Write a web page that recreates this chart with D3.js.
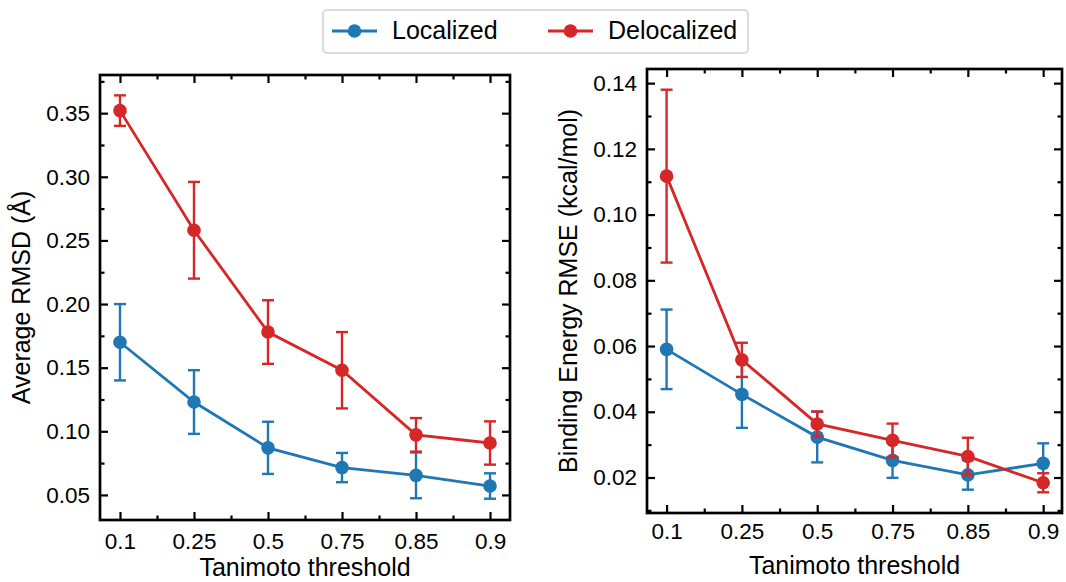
<!DOCTYPE html>
<html>
<head>
<meta charset="utf-8">
<script src="https://cdn.jsdelivr.net/npm/d3@7"></script>
<style>
  body { margin: 0; background: #fff; }
  svg { font-family: "Liberation Sans", Arial, sans-serif; }
</style>
</head>
<body>
<script>
// data
var thresholds = ["0.1", "0.25", "0.5", "0.75", "0.85", "0.9"];
var seriesNames = ["Localized", "Delocalized"];
var seriesColors = ["#1f77b4", "#d62728"];

// left panel: Average RMSD (Å)
var rmsdLocal = [0.170, 0.123, 0.087, 0.0715, 0.0654, 0.057];
var rmsdLocalErr = [0.030, 0.025, 0.0205, 0.0115, 0.018, 0.010];
var rmsdDeloc = [0.352, 0.258, 0.178, 0.148, 0.0972, 0.0908];
var rmsdDelocErr = [0.012, 0.038, 0.025, 0.030, 0.0132, 0.017];

// right panel: Binding Energy RMSE (kcal/mol)
var rmseLocal = [0.059, 0.0453, 0.0323, 0.0252, 0.0208, 0.0243];
var rmseLocalErr = [0.0121, 0.0102, 0.0077, 0.0053, 0.0045, 0.0061];
var rmseDeloc = [0.1117, 0.0558, 0.0363, 0.0313, 0.0264, 0.0184];
var rmseDelocErr = [0.0263, 0.0052, 0.0038, 0.0051, 0.0057, 0.0029];

var width = 1066, height = 582;
var tickFont = "22.5px", labelFont = "25px";

var svg = d3.select("body").append("svg")
  .attr("width", width)
  .attr("height", height);

function drawPanel(p) {
  var x = d3.scaleLinear().domain(p.xDomain).range([p.left, p.right]);
  var y = d3.scaleLinear().domain(p.yDomain).range([p.bottom, p.top]);
  var g = svg.append("g");

  var xMajor = d3.range(thresholds.length);
  var xMinor = d3.range(thresholds.length - 1).map(function(i){ return i + 0.5; });
  var yMinor = d3.range(p.yMinorStart, p.yDomain[1], p.yMinorStep);

  function styleAxis(sel) {
    sel.select(".domain").remove();
    sel.selectAll(".tick line").attr("stroke", "#000").attr("stroke-width", 2.2);
    sel.selectAll(".tick text").attr("fill", "#000").style("font-size", tickFont);
  }

  // minor ticks
  [[d3.axisBottom(x), p.bottom, "x"], [d3.axisTop(x), p.top, "x"],
   [d3.axisLeft(y), p.left, "y"], [d3.axisRight(y), p.right, "y"]].forEach(function(a){
    var ax = a[0].tickValues(a[2] == "x" ? xMinor : yMinor).tickSize(-4.5).tickFormat("");
    var t = a[2] == "x" ? "translate(0," + a[1] + ")" : "translate(" + a[1] + ",0)";
    g.append("g").attr("transform", t).call(ax).call(styleAxis);
  });

  // major ticks
  g.append("g").attr("transform", "translate(0," + p.bottom + ")")
    .call(d3.axisBottom(x).tickValues(xMajor).tickSize(-8).tickPadding(p.xPad)
      .tickFormat(function(d){ return thresholds[d]; }))
    .call(styleAxis);
  g.append("g").attr("transform", "translate(0," + p.top + ")")
    .call(d3.axisTop(x).tickValues(xMajor).tickSize(-8).tickFormat(""))
    .call(styleAxis);
  g.append("g").attr("transform", "translate(" + p.left + ",0)")
    .call(d3.axisLeft(y).tickValues(p.yTicks).tickSize(-8).tickPadding(10)
      .tickFormat(d3.format(p.yFormat)))
    .call(styleAxis);
  g.append("g").attr("transform", "translate(" + p.right + ",0)")
    .call(d3.axisRight(y).tickValues(p.yTicks).tickSize(-8).tickFormat(""))
    .call(styleAxis);

  // frame
  g.append("rect")
    .attr("x", p.left).attr("y", p.top)
    .attr("width", p.right - p.left).attr("height", p.bottom - p.top)
    .attr("fill", "none").attr("stroke", "#000").attr("stroke-width", 2.7);

  // series
  p.series.forEach(function(s, si){
    var color = seriesColors[si];
    var pts = s.values.map(function(v, i){ return {i: i, v: v, e: s.errs[i]}; });
    var sg = g.append("g");

    sg.append("path").datum(pts)
      .attr("fill", "none").attr("stroke", color).attr("stroke-width", 2.8)
      .attr("d", d3.line().x(function(d){ return x(d.i); }).y(function(d){ return y(d.v); }));

    var eb = sg.selectAll(".err").data(pts).enter().append("g")
      .attr("stroke", color).attr("stroke-width", 2.4);
    eb.append("line")
      .attr("x1", function(d){ return x(d.i); }).attr("x2", function(d){ return x(d.i); })
      .attr("y1", function(d){ return y(d.v - d.e); }).attr("y2", function(d){ return y(d.v + d.e); });
    eb.append("line")
      .attr("x1", function(d){ return x(d.i) - 6; }).attr("x2", function(d){ return x(d.i) + 6; })
      .attr("y1", function(d){ return y(d.v + d.e); }).attr("y2", function(d){ return y(d.v + d.e); });
    eb.append("line")
      .attr("x1", function(d){ return x(d.i) - 6; }).attr("x2", function(d){ return x(d.i) + 6; })
      .attr("y1", function(d){ return y(d.v - d.e); }).attr("y2", function(d){ return y(d.v - d.e); });

    sg.selectAll("circle").data(pts).enter().append("circle")
      .attr("cx", function(d){ return x(d.i); })
      .attr("cy", function(d){ return y(d.v); })
      .attr("r", 6.8)
      .attr("fill", color);
  });

  // axis labels
  g.append("text")
    .attr("x", (p.left + p.right) / 2).attr("y", p.xLabelY)
    .attr("text-anchor", "middle").style("font-size", labelFont)
    .text("Tanimoto threshold");
  g.append("text")
    .attr("transform", "translate(" + p.yLabelX + "," + ((p.top + p.bottom) / 2) + ") rotate(-90)")
    .attr("text-anchor", "middle").style("font-size", labelFont)
    .text(p.yLabel);
}

drawPanel({
  left: 100, right: 510, top: 75, bottom: 520,
  xDomain: [-0.27, 5.27],
  yDomain: [0.0303, 0.380],
  yTicks: [0.05, 0.10, 0.15, 0.20, 0.25, 0.30, 0.35],
  yMinorStart: 0.075, yMinorStep: 0.05,
  yFormat: ".2f",
  xPad: 13, xLabelY: 576, yLabelX: 30,
  yLabel: "Average RMSD (Å)",
  series: [{values: rmsdLocal, errs: rmsdLocalErr}, {values: rmsdDeloc, errs: rmsdDelocErr}]
});

drawPanel({
  left: 647, right: 1062, top: 69, bottom: 513,
  xDomain: [-0.26, 5.25],
  yDomain: [0.0092, 0.1443],
  yTicks: [0.02, 0.04, 0.06, 0.08, 0.10, 0.12, 0.14],
  yMinorStart: 0.01, yMinorStep: 0.02,
  yFormat: ".2f",
  xPad: 10, xLabelY: 574, yLabelX: 577,
  yLabel: "Binding Energy RMSE (kcal/mol)",
  series: [{values: rmseLocal, errs: rmseLocalErr}, {values: rmseDeloc, errs: rmseDelocErr}]
});

// legend
var legend = svg.append("g");
legend.append("rect")
  .attr("x", 323).attr("y", 10).attr("width", 425).attr("height", 43).attr("rx", 4)
  .attr("fill", "#fff").attr("stroke", "#dcdcdc").attr("stroke-width", 2.2);
var legendX = [332, 548];
seriesNames.forEach(function(name, i){
  var lg = legend.append("g").attr("transform", "translate(" + legendX[i] + ",31)");
  lg.append("line").attr("x1", 0).attr("x2", 45).attr("y1", 0).attr("y2", 0)
    .attr("stroke", seriesColors[i]).attr("stroke-width", 2.8);
  lg.append("circle").attr("cx", 22.5).attr("cy", 0).attr("r", 6.8).attr("fill", seriesColors[i]);
  lg.append("text").attr("x", 60).attr("y", 8).style("font-size", labelFont).text(name);
});
</script>
</body>
</html>
